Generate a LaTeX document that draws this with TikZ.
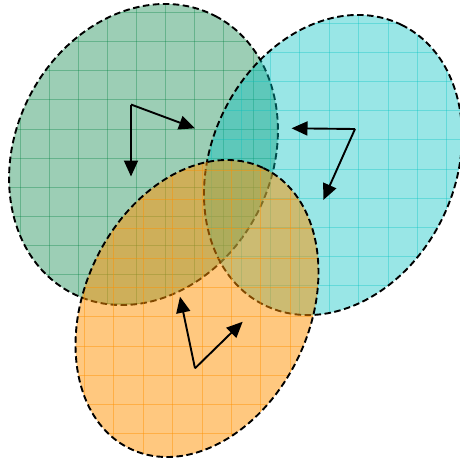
\documentclass[tikz,border=0pt]{standalone}
\usetikzlibrary{arrows.meta}
\definecolor{gbase}{RGB}{0,128,64}
\definecolor{cbase}{RGB}{0,192,192}
\definecolor{obase}{RGB}{255,145,0}
\tikzset{
  outline/.style={draw=black, line width=1.9pt, dash pattern=on 6.5pt off 3.5pt},
  gridline/.style={line width=1pt},
  axisarrow/.style={draw=black, line width=1.9pt, -{Triangle[length=16pt,width=14pt]}},
}
\begin{document}
\begin{tikzpicture}[x=1pt,y=-1pt]
\useasboundingbox (0,0) rectangle (459,461);
% green ellipse
\begin{scope}
  \clip[rotate around={62.6:(143.5,154.5)}] (143.5,154.5) ellipse [x radius=156, y radius=128];
  \fill[gbase, opacity=0.39] (-10,-10) rectangle (470,470);
  \foreach \k in {-18,...,18} {
    \draw[gridline, gbase, opacity=0.35] ({49.3+29.1*\k},-10) -- ({49.3+29.1*\k},470);
    \draw[gridline, gbase, opacity=0.35] (-10,{41.7+29.1*\k}) -- (470,{41.7+29.1*\k});
  }
\end{scope}
\draw[outline, rotate around={62.6:(143.5,154.5)}] (143.5,154.5) ellipse [x radius=156, y radius=128];
% cyan ellipse
\begin{scope}
  \clip[rotate around={64:(333,165)}] (333,165) ellipse [x radius=156, y radius=121.7];
  \fill[cbase, opacity=0.4] (-10,-10) rectangle (480,470);
  \foreach \k in {-18,...,18} {
    \draw[gridline, cbase, opacity=0.35] ({388+29.4*\k},-10) -- ({388+29.4*\k},470);
    \draw[gridline, cbase, opacity=0.35] (-10,{169+29.1*\k}) -- (480,{169+29.1*\k});
  }
\end{scope}
\draw[outline, rotate around={64:(333,165)}] (333,165) ellipse [x radius=156, y radius=121.7];
% orange ellipse
\begin{scope}
  \clip[rotate around={64.7:(197,308.5)}] (197,308.5) ellipse [x radius=155.4, y radius=112.5];
  \fill[obase, opacity=0.5] (-10,-10) rectangle (470,470);
  \foreach \k in {-18,...,18} {
    \draw[gridline, obase, opacity=0.45] ({172.7+29.4*\k},-10) -- ({172.7+29.4*\k},470);
    \draw[gridline, obase, opacity=0.45] (-10,{346+29.3*\k}) -- (470,{346+29.3*\k});
  }
\end{scope}
\draw[outline, rotate around={64.7:(197,308.5)}] (197,308.5) ellipse [x radius=155.4, y radius=112.5];
% axes
\coordinate (g0) at (131,104.5);
\coordinate (g1) at (131,176.5);
\coordinate (g2) at (195,128.3);
\coordinate (c0) at (355,129);
\coordinate (c1) at (291.5,128.3);
\coordinate (c2) at (323.3,200);
\coordinate (o0) at (195,368.3);
\coordinate (o1) at (180,296.7);
\coordinate (o2) at (242.7,321.7);
\draw[axisarrow] (g0) -- (g1);
\draw[axisarrow] (g0) -- (g2);
\draw[axisarrow] (c0) -- (c1);
\draw[axisarrow] (c0) -- (c2);
\draw[axisarrow] (o0) -- (o1);
\draw[axisarrow] (o0) -- (o2);
\end{tikzpicture}
\end{document}
